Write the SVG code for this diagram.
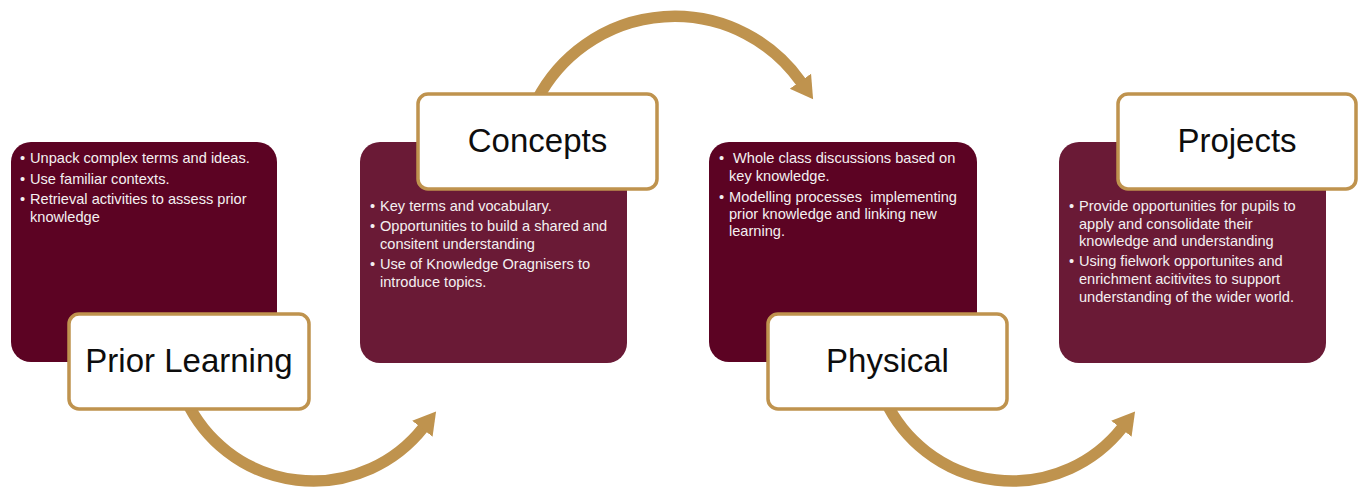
<svg xmlns="http://www.w3.org/2000/svg" width="1360" height="489" viewBox="0 0 1360 489">
<style>
.dark{fill:#5C0323}
.light{fill:#6A1A36}
.title{fill:#FFFFFF;stroke:#BF934E;stroke-width:3.5}
.tt{font-family:"Liberation Sans",Arial,sans-serif;font-size:33px;fill:#0D0D0D;text-anchor:middle}
.bt{font-family:"Liberation Sans",Arial,sans-serif;font-size:14.6px;fill:#F4F0F1;white-space:pre}
.arc{fill:none;stroke:#BF934E;stroke-width:11.5;marker-end:url(#head)}
</style>
<defs>
<marker id="head" markerUnits="userSpaceOnUse" markerWidth="30" markerHeight="30" refX="1" refY="13" orient="auto" viewBox="0 0 30 26">
<path d="M0,0 L22,13 L0,26 Z" fill="#BF934E"/>
</marker>
</defs>
<rect width="1360" height="489" fill="#FFFFFF"/>
<g id="connectors">
<path class="arc" d="M186,400 A140.3 140.3 0 0 0 423,428"/>
<path class="arc" d="M537,100 A154.8 154.8 0 0 1 801,82"/>
<path class="arc" d="M885,400 A140.3 140.3 0 0 0 1122,428"/>
</g>
<g id="prior-learning">
<rect class="dark" x="11" y="142" width="266" height="220" rx="20"/>
<text class="bt"><tspan x="20" y="163">•</tspan><tspan x="30" y="163">Unpack complex terms and ideas.</tspan><tspan x="20" y="184">•</tspan><tspan x="30" y="184">Use familiar contexts.</tspan><tspan x="20" y="204">•</tspan><tspan x="30" y="204">Retrieval activities to assess prior</tspan><tspan x="30" y="222">knowledge</tspan></text>
<rect class="title" x="69" y="314" width="240" height="95" rx="10"/>
<text class="tt" x="189" y="372">Prior Learning</text>
</g>
<g id="concepts">
<rect class="light" x="360" y="142" width="267" height="221" rx="20"/>
<text class="bt"><tspan x="370" y="211">•</tspan><tspan x="380" y="211">Key terms and vocabulary.</tspan><tspan x="370" y="231">•</tspan><tspan x="380" y="231">Opportunities to build a shared and</tspan><tspan x="380" y="249">consitent understanding</tspan><tspan x="370" y="269">•</tspan><tspan x="380" y="269">Use of Knowledge Oragnisers to</tspan><tspan x="380" y="287">introduce topics.</tspan></text>
<rect class="title" x="418" y="94" width="239" height="95" rx="10"/>
<text class="tt" x="537.5" y="152">Concepts</text>
</g>
<g id="physical">
<rect class="dark" x="709" y="142" width="268" height="220" rx="20"/>
<text class="bt" xml:space="preserve"><tspan x="719" y="163">•</tspan><tspan x="733" y="163">Whole class discussions based on</tspan><tspan x="729" y="181">key knowledge.</tspan><tspan x="719" y="202">•</tspan><tspan x="729" y="202">Modelling processes  implementing</tspan><tspan x="729" y="219">prior knowledge and linking new</tspan><tspan x="729" y="236">learning.</tspan></text>
<rect class="title" x="768" y="314" width="239" height="95" rx="10"/>
<text class="tt" x="887.5" y="372">Physical</text>
</g>
<g id="projects">
<rect class="light" x="1059" y="142" width="267" height="221" rx="20"/>
<text class="bt"><tspan x="1069" y="211">•</tspan><tspan x="1079" y="211">Provide opportunities for pupils to</tspan><tspan x="1079" y="229">apply and consolidate their</tspan><tspan x="1079" y="246">knowledge and understanding</tspan><tspan x="1069" y="266">•</tspan><tspan x="1079" y="266">Using fielwork opportunites and</tspan><tspan x="1079" y="284">enrichment acitivites to support</tspan><tspan x="1079" y="302">understanding of the wider world.</tspan></text>
<rect class="title" x="1118" y="94" width="238" height="95" rx="10"/>
<text class="tt" x="1237" y="152">Projects</text>
</g>
</svg>
